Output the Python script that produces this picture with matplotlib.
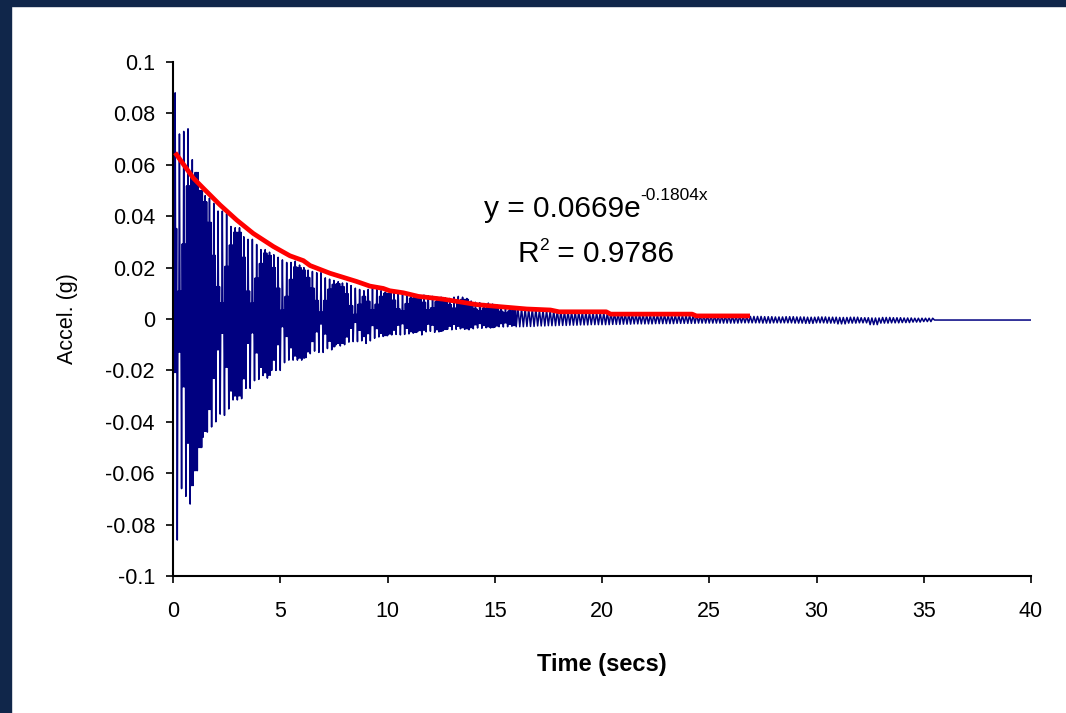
import numpy as np
import matplotlib
matplotlib.use("Agg")
import matplotlib.pyplot as plt
from matplotlib.patches import Rectangle

plt.rcParams["font.family"] = ["Liberation Sans", "DejaVu Sans"]

# --- data -------------------------------------------------------------------
# 0-16 s: one swing every 0.2 s. Lower spikes at t = 0.0, 0.2, ...
# upper spikes half a step later; lens = how full the beat lobe is (0..1).
SWING = 0.2
spike_hi = [
    0.088, 0.072, 0.073, 0.074, 0.062, 0.057, 0.050, 0.048, 0.047, 0.045,
    0.042, 0.042, 0.041, 0.036, 0.0355, 0.0355, 0.032, 0.031, 0.031, 0.029,
    0.027, 0.027, 0.026, 0.025, 0.024, 0.023, 0.022, 0.022, 0.0225, 0.021,
    0.020, 0.019, 0.0185, 0.018, 0.018, 0.016, 0.0155, 0.015, 0.0145, 0.014,
    0.014, 0.013, 0.012, 0.0115, 0.011,
    0.0115, 0.012, 0.0115, 0.011, 0.0105, 0.011, 0.0105, 0.010, 0.0105, 0.010,
    0.0095, 0.0093, 0.009, 0.0093, 0.009, 0.0088, 0.0085, 0.0085, 0.0082, 0.008,
    0.0085, 0.0088, 0.0085, 0.008, 0.007, 0.0065, 0.0063, 0.006, 0.0062, 0.0058,
    0.0055, 0.005, 0.0047, 0.0045, 0.0045,
]
spike_lo = [
    -0.052, -0.086, -0.066, -0.069, -0.072, -0.059, -0.050, -0.046, -0.044, -0.042,
    -0.040, -0.037, -0.0375, -0.035, -0.0315, -0.0315, -0.031, -0.027, -0.027, -0.024,
    -0.0235, -0.022, -0.023, -0.020, -0.020, -0.020, -0.017, -0.016, -0.016, -0.016,
    -0.016, -0.015, -0.0135, -0.0125, -0.013, -0.013, -0.0115, -0.012, -0.010, -0.0105,
    -0.010, -0.009, -0.0088, -0.0088, -0.0085,
    -0.0095, -0.0085, -0.0075, -0.007, -0.0068, -0.0065, -0.0062, -0.006, -0.0062, -0.006,
    -0.0058, -0.0055, -0.005, -0.0062, -0.005, -0.0048, -0.0052, -0.005, -0.0045, -0.004,
    -0.0042, -0.004, -0.0038, -0.004, -0.0042, -0.0038, -0.0035, -0.0036, -0.0034, -0.0035,
    -0.0032, -0.003, -0.0031, -0.003, -0.0028,
]
lens = [
    0.4, 0.15, 0.4, 0.7, 0.9, 1.0, 1.0, 0.95, 0.8, 0.55,
    0.3, 0.15, 0.5, 0.8, 0.95, 0.95, 0.75, 0.35, 0.2, 0.55,
    0.8, 0.95, 0.95, 0.8, 0.5, 0.15, 0.4, 0.7, 0.9, 0.95,
    0.95, 0.85, 0.65, 0.4, 0.15, 0.45, 0.75, 0.9, 0.95, 0.9,
    0.7, 0.4, 0.15, 0.5, 0.8,
    0.6, 0.3, 0.5, 0.8, 0.95, 0.9, 0.7, 0.4, 0.3, 0.6,
    0.85, 0.95, 0.9, 0.7, 0.4, 0.5, 0.8, 0.95, 0.9, 0.7,
    0.5, 0.7, 0.9, 0.95, 0.8, 0.6, 0.5, 0.7, 0.9, 0.95,
    0.85, 0.6, 0.5, 0.7, 0.9,
]

# 16-35.5 s: small residual, one swing every 0.5 s
TAIL_START, TAIL_SWING = 16.0, 0.5
tail_hi = [
    0.0042, 0.004, 0.0035, 0.0033, 0.003, 0.0028, 0.0027, 0.0025, 0.0024, 0.0023,
    0.002, 0.0018, 0.0016, 0.0017, 0.0015, 0.0014, 0.0015, 0.0013, 0.0012, 0.0012,
    0.0011, 0.001, 0.001, 0.0009, 0.0008, 0.0009, 0.0008, 0.0007, 0.0008, 0.0007,
    0.0006, 0.0007, 0.0005, 0.0004, 0.0006, 0.0005, 0.0004, 0.0003, 0.0003,
]
tail_lo = [
    -0.003, -0.0029, -0.0027, -0.0026, -0.0025, -0.0024, -0.0023, -0.0022, -0.0022, -0.0021,
    -0.002, -0.0019, -0.0019, -0.0018, -0.0018, -0.0017, -0.0017, -0.0016, -0.0016, -0.0016,
    -0.0016, -0.0015, -0.0015, -0.0016, -0.0015, -0.0015, -0.0016, -0.0017, -0.0015, -0.0016,
    -0.0019, -0.0016, -0.0015, -0.0022, -0.0016, -0.0015, -0.0014, -0.0012, -0.001,
]
flat_t = [35.5, 40.0]
flat_y = [-0.0004, -0.0004]

# red trend line
trend_t = [0.1, 0.95, 1.41, 2.19, 2.97, 3.74, 4.68, 5.45, 6.08, 6.39, 7.32, 8.56,
           9.18, 9.8, 10.1, 10.74, 11.44, 12.6, 14.16, 15.24, 16.49, 17.6, 18.0,
           20.2, 20.4, 24.2, 24.4, 26.9]
trend_y = [0.0647, 0.0548, 0.0509, 0.0444, 0.0385, 0.0333, 0.0282, 0.0246, 0.0227,
           0.0208, 0.0178, 0.0146, 0.0128, 0.0119, 0.011, 0.0102, 0.0088, 0.0077,
           0.0056, 0.0048, 0.0039, 0.0035, 0.0028, 0.0028, 0.0019, 0.0019, 0.0012,
           0.0012]

x_ticks = [0, 5, 10, 15, 20, 25, 30, 35, 40]
y_ticks = [-0.1, -0.08, -0.06, -0.04, -0.02, 0, 0.02, 0.04, 0.06, 0.08, 0.1]
y_tick_labels = ["-0.1", "-0.08", "-0.06", "-0.04", "-0.02", "0",
                 "0.02", "0.04", "0.06", "0.08", "0.1"]


def swings(t0, step, hi, lo, fill):
    """Vertices for each swing: low spike, lobe wiggle, high spike, lobe wiggle."""
    ts, ys = [], []
    for k, (h, l, f) in enumerate(zip(hi, lo, fill)):
        t = t0 + k * step
        ts += [t + step * j / 6 for j in range(6)]
        ys += [l, f * h, f * l, h, f * l, f * h]
    return ts, ys


def text_with_sup(fig, cx, base_y, parts, rise):
    """Centre a run of (text, size, is_sup) pieces on cx (pixels), baseline base_y."""
    r = fig.canvas.get_renderer()
    objs = []
    for s, size, sup in parts:
        objs.append((fig.text(0, 0, s, fontsize=size, ha="left", va="baseline"), sup))
    widths = [o.get_window_extent(r).width for o, _ in objs]
    x = cx - sum(widths) / 2
    for (o, sup), w in zip(objs, widths):
        y = base_y - rise if sup else base_y
        o.set_position((x / W, 1 - y / H))
        x += w


t1, y1 = swings(0.0, SWING, spike_hi, spike_lo, lens)
t2, y2 = swings(TAIL_START, TAIL_SWING, tail_hi, tail_lo, [1.0] * len(tail_hi))
sig_t = t1 + t2 + flat_t
sig_y = y1 + y2 + flat_y

W, H = 1066, 713
fig = plt.figure(figsize=(W / 100, H / 100), dpi=100)
fig.patches.append(Rectangle((0, 0), 11 / W, 1, transform=fig.transFigure,
                             color="#10264a", zorder=0))
fig.patches.append(Rectangle((0, 1 - 6 / H), 1, 6 / H, transform=fig.transFigure,
                             color="#10264a", zorder=0))

ax = fig.add_axes([173 / W, 1 - 576 / H, 858 / W, 514 / H])
ax.plot(sig_t, sig_y, color="#000080", lw=1.1, zorder=2)
ax.plot(trend_t, trend_y, color="#ff0000", lw=3.4, zorder=3,
        solid_joinstyle="round", solid_capstyle="butt")

ax.set_xlim(0, 40)
ax.set_ylim(-0.1, 0.1)
ax.set_xticks(x_ticks)
ax.set_xticklabels([str(v) for v in x_ticks])
ax.set_yticks(y_ticks)
ax.set_yticklabels(y_tick_labels)
for s in ("top", "right"):
    ax.spines[s].set_visible(False)
for s in ("left", "bottom"):
    ax.spines[s].set_linewidth(1.5)
ax.tick_params(direction="out", length=5, width=1.2, labelsize=15.5)
ax.tick_params(axis="y", pad=8)
ax.tick_params(axis="x", pad=13)
ax.set_xlabel("Time (secs)", fontsize=17, fontweight="bold", labelpad=22)
ax.set_ylabel("Accel. (g)", fontsize=15.5, labelpad=20)

# trendline equation, placed as in the reference
text_with_sup(fig, 596, 217, [("y = 0.0669e", 21.5, False),
                              ("-0.1804x", 12.5, True)], 17)
text_with_sup(fig, 596, 262, [("R", 21.5, False), ("2", 12.5, True),
                              (" = 0.9786", 21.5, False)], 12)

fig.savefig("out.png", dpi=100)
